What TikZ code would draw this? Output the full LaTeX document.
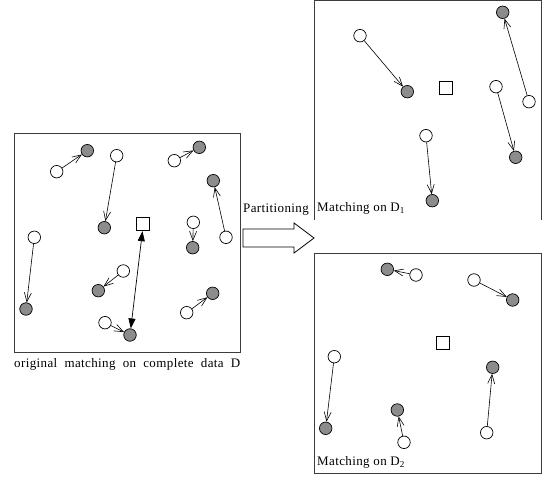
\documentclass[tikz,border=0pt]{standalone}
\usepackage{fontspec}
\setmainfont{Liberation Serif}[LetterSpace=3]
\usetikzlibrary{arrows.meta}
\definecolor{dotgray}{RGB}{140,140,140}
\definecolor{framegray}{RGB}{60,60,60}
\begin{document}
\begin{tikzpicture}[x=1pt,y=-1pt,
  free/.style={circle,draw=black,fill=white,line width=0.7pt,minimum size=12.5pt,inner sep=0pt},
  taken/.style={circle,draw=black,fill=dotgray,line width=0.7pt,minimum size=12.5pt,inner sep=0pt},
  centre/.style={rectangle,draw=black,fill=white,line width=0.7pt,minimum size=13pt,inner sep=0pt},
  link/.style={line width=0.6pt,-{Straight Barb[length=9pt,width=7pt,line width=0.6pt]}},
  both/.style={line width=0.7pt,{Triangle[length=10pt,width=7pt]}-{Triangle[length=10pt,width=7pt]}},
  frame/.style={draw=framegray,line width=0.9pt},
  caption/.style={anchor=base west,inner sep=0pt,font=\fontsize{13}{15}\selectfont}]
\useasboundingbox (0,0) rectangle (544,478);

% ---- complete data D ----
\draw[frame] (14,133) rectangle (240,352);
\node[free]  (lw1) at (56.7,171.7) {};  \node[taken] (lg1) at (87.3,150.7) {};
\node[free]  (lw2) at (116.7,155.7) {}; \node[taken] (lg2) at (104.3,227.7) {};
\node[free]  (lw3) at (174.3,160.7) {}; \node[taken] (lg3) at (199.3,147.3) {};
\node[free]  (lw4) at (226,237.3) {};   \node[taken] (lg4) at (213.3,180.7) {};
\node[free]  (lw5) at (193.3,222.3) {}; \node[taken] (lg5) at (192.7,247.7) {};
\node[free]  (lw6) at (34.3,237.3) {};  \node[taken] (lg6) at (26,309) {};
\node[free]  (lw7) at (123.3,271) {};   \node[taken] (lg7) at (98.3,290.7) {};
\node[free]  (lw8) at (105,322.7) {};   \node[taken] (lg8) at (130,335) {};
\node[free]  (lw9) at (186.7,312.7) {}; \node[taken] (lg9) at (212.7,293.3) {};
\node[centre] (lsq) at (143.3,224.3) {};
\foreach \i in {1,...,9} \draw[link] (lw\i) -- (lg\i);
\draw[both] (lsq) -- (lg8);
\node[caption] (lcap) at (14,368) {\makebox[226pt][s]{original matching on complete data D}};

% ---- partitioning arrow ----
\draw[line width=0.8pt,fill=white] (243,229) -- (294,229) -- (294,223) -- (314,238)
  -- (294,253) -- (294,247) -- (243,247) -- cycle;
\node[caption] (part) at (243,213) {Partitioning};

% ---- subset D1 ----
\draw[frame] (314,220) -- (314,0.5) -- (541,0.5) -- (541,220);
\node[free]  (tw1) at (360,35.7) {};  \node[taken] (tg1) at (407.3,91.7) {};
\node[free]  (tw2) at (529,101.7) {}; \node[taken] (tg2) at (502.7,12.3) {};
\node[free]  (tw3) at (496,86.7) {};  \node[taken] (tg3) at (515.7,157.3) {};
\node[free]  (tw4) at (426,135.7) {}; \node[taken] (tg4) at (432.3,200.7) {};
\node[centre] (tsq) at (446,88.3) {};
\foreach \i in {1,...,4} \draw[link] (tw\i) -- (tg\i);
\node[caption] (tcap) at (317,212) {Matching on D\textsubscript{1}};

% ---- subset D2 ----
\draw[frame] (314,253) rectangle (541,473);
\node[free]  (bw1) at (416,275) {};   \node[taken] (bg1) at (387.3,269.3) {};
\node[free]  (bw2) at (474,280) {};   \node[taken] (bg2) at (512.7,300) {};
\node[free]  (bw3) at (334.3,356.7) {}; \node[taken] (bg3) at (325.7,428.3) {};
\node[free]  (bw4) at (404,442.3) {}; \node[taken] (bg4) at (397.3,410) {};
\node[free]  (bw5) at (486.7,432.7) {}; \node[taken] (bg5) at (492.7,367.3) {};
\node[centre] (bsq) at (442.7,343.3) {};
\foreach \i in {1,...,5} \draw[link] (bw\i) -- (bg\i);
\node[caption] (bcap) at (317,466) {Matching on D\textsubscript{2}};
\end{tikzpicture}
\end{document}
